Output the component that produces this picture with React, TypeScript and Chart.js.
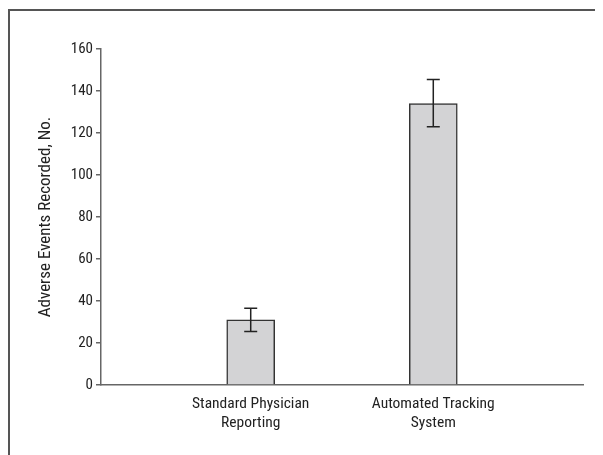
import React, { useEffect, useRef } from "react";
import { Chart, registerables } from "chart.js";

Chart.register(...registerables);

const categoryLabels: string[][] = [
  ["Standard Physician", "Reporting"],
  ["Automated Tracking", "System"],
];
const categoryPositions: number[] = [1, 2];
const eventCounts: number[] = [31, 134];
const errorLow: number[] = [25.5, 123];
const errorHigh: number[] = [36.5, 145.5];
const yTickStep = 20;
const yMin = 0;
const yMax = 160;
const yTitle = "Adverse Events Recorded, No.";

const FONT = "'Liberation Sans Narrow', 'Roboto Condensed', 'DejaVu Sans Condensed', Arial, sans-serif";

const errorBarPlugin = {
  id: "errorBars",
  afterDatasetsDraw(chart: any) {
    const ctx = chart.ctx;
    const xs = chart.scales.x;
    const ys = chart.scales.y;
    ctx.save();
    ctx.strokeStyle = "#222";
    ctx.lineWidth = 1.5;
    categoryPositions.forEach((pos, i) => {
      const x = xs.getPixelForValue(pos);
      const yl = ys.getPixelForValue(errorLow[i]);
      const yh = ys.getPixelForValue(errorHigh[i]);
      const cap = 6.5;
      ctx.beginPath();
      ctx.moveTo(x, yl);
      ctx.lineTo(x, yh);
      ctx.moveTo(x - cap, yl);
      ctx.lineTo(x + cap, yl);
      ctx.moveTo(x - cap, yh);
      ctx.lineTo(x + cap, yh);
      ctx.stroke();
    });
    ctx.restore();
  },
};

export default function App() {
  const canvasRef = useRef<HTMLCanvasElement | null>(null);

  useEffect(() => {
    if (!canvasRef.current) return;
    const chart = new Chart(canvasRef.current, {
      type: "bar",
      data: {
        datasets: [
          {
            data: categoryPositions.map((p, i) => ({ x: p, y: eventCounts[i] })),
            backgroundColor: "#d3d3d5",
            borderColor: "#333",
            borderWidth: 1.5,
            borderSkipped: "bottom",
            barThickness: 48,
          },
        ],
      },
      options: {
        animation: false,
        responsive: true,
        maintainAspectRatio: false,
        layout: { padding: { top: 41, right: 20, left: 0, bottom: 0 } },
        plugins: {
          legend: { display: false },
          tooltip: { enabled: false },
        },
        scales: {
          x: {
            type: "linear",
            min: 0.18,
            max: 2.82,
            bounds: "data",
            offset: false,
            afterFit: (scale: any) => {
              scale.height = 70;
            },
            grid: { display: false, drawTicks: false, tickLength: 0 },
            border: { display: true, color: "#666", width: 1.5 },
            afterBuildTicks: (axis: any) => {
              axis.ticks = categoryPositions.map((v) => ({ value: v }));
            },
            ticks: {
              autoSkip: false,
              maxRotation: 0,
              padding: 9,
              color: "#222",
              font: { family: FONT, size: 15.5, lineHeight: 1.25 },
              callback: (_v: any, index: number) => categoryLabels[index],
            },
          },
          y: {
            min: yMin,
            max: yMax,
            afterFit: (scale: any) => {
              scale.width = 93;
            },
            grid: { drawOnChartArea: false, drawTicks: true, tickLength: 5, color: "#666", lineWidth: 1.5 },
            border: { display: true, color: "#666", width: 1.5 },
            ticks: {
              stepSize: yTickStep,
              padding: 3,
              color: "#222",
              font: { family: FONT, size: 15 },
            },
            title: {
              display: true,
              text: yTitle,
              color: "#222",
              font: { family: FONT, size: 17 },
              padding: { top: 28, bottom: 0 },
            },
          },
        },
      },
      plugins: [errorBarPlugin],
    });
    return () => chart.destroy();
  }, []);

  return (
    <div style={{ position: "relative", width: 595, height: 447 }}>
      <div
        style={{
          position: "absolute",
          left: 0,
          top: 1,
          right: 0,
          bottom: 0,
          borderTop: "2px solid #555",
          borderLeft: "2px solid #555",
          pointerEvents: "none",
        }}
      />
      <div style={{ position: "absolute", left: 0, top: 0, width: 595, height: 447 }}>
        <canvas ref={canvasRef} />
      </div>
    </div>
  );
}
